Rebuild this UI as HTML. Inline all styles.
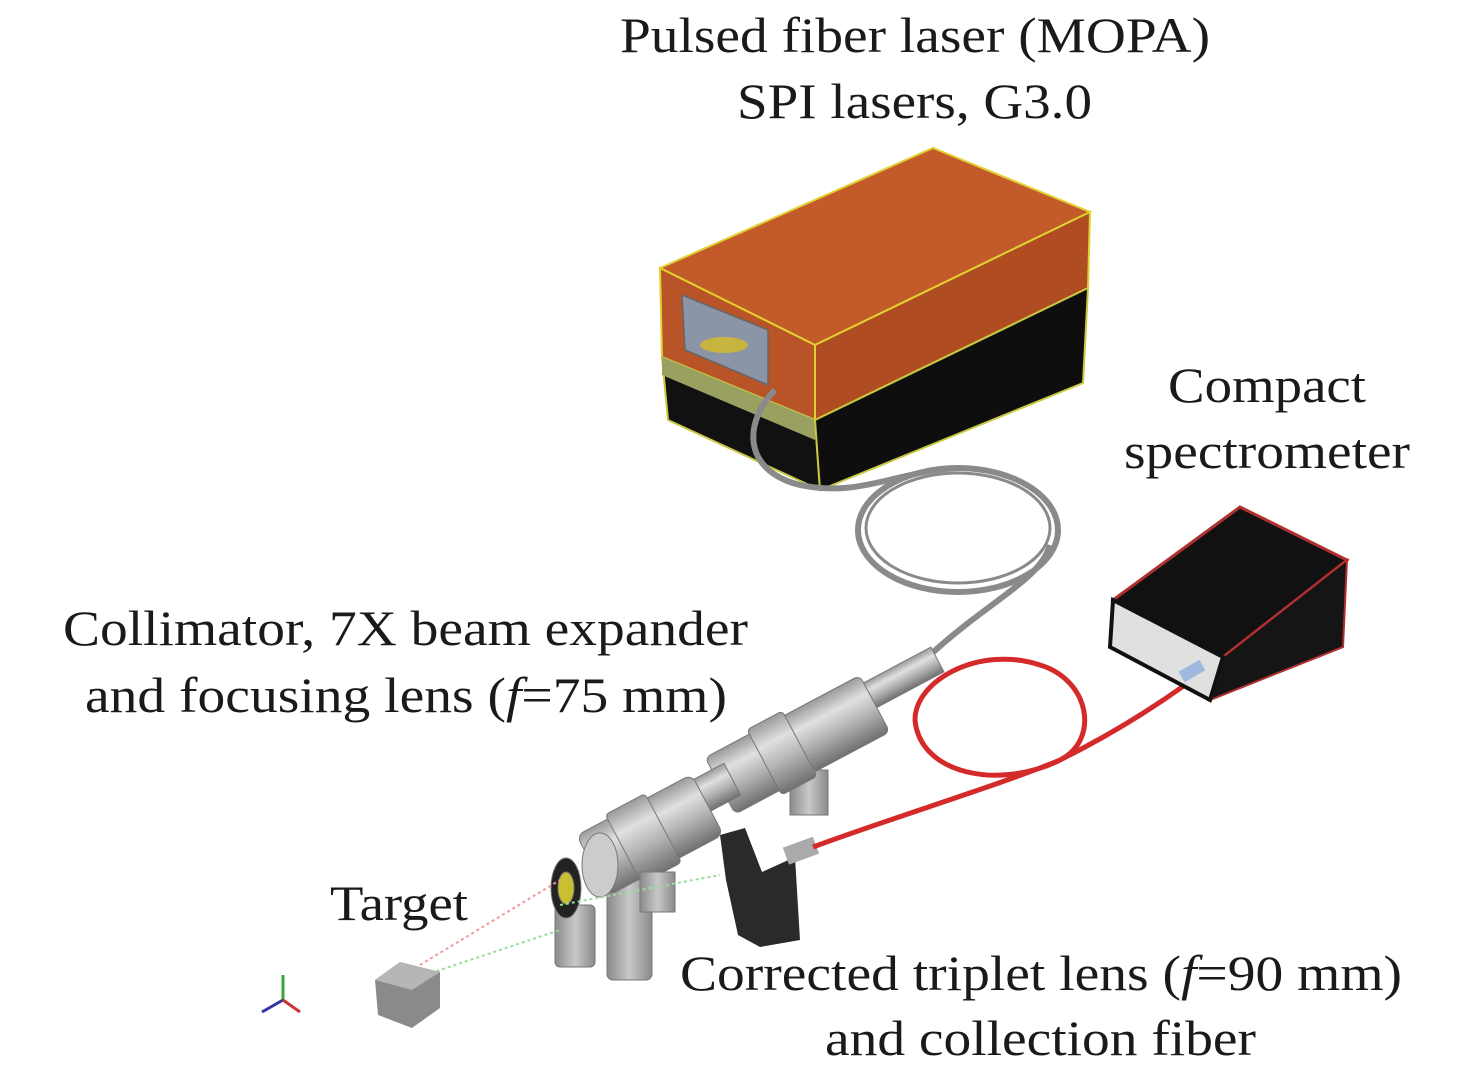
<!DOCTYPE html>
<html><head><style>
html,body{margin:0;padding:0;background:#fff;}
svg{display:block;}
text{font-family:"Liberation Serif",serif;font-size:50px;fill:#1a1a1a;}
</style></head><body>
<svg width="1476" height="1079" viewBox="0 0 1476 1079" xmlns="http://www.w3.org/2000/svg">
<defs>
<linearGradient id="metal" x1="0" y1="0" x2="0" y2="1">
<stop offset="0" stop-color="#9a9a9a"/><stop offset="0.3" stop-color="#e0e0e0"/><stop offset="0.6" stop-color="#b4b4b4"/><stop offset="1" stop-color="#707070"/>
</linearGradient>
<linearGradient id="post" x1="0" y1="0" x2="1" y2="0">
<stop offset="0" stop-color="#8a8a8a"/><stop offset="0.5" stop-color="#c8c8c8"/><stop offset="1" stop-color="#8a8a8a"/>
</linearGradient>
</defs>
<!-- laser box -->
<polygon points="660,268 933,148 1090,212 815,345" fill="#c25a2a" stroke="#e0d030" stroke-width="2"/>
<polygon points="660,268 815,345 815,420 662,357" fill="#b85428" stroke="#e0d030" stroke-width="2"/>
<polygon points="662,357 815,420 820,490 668,420" fill="#111" stroke="#c8c840" stroke-width="2"/>
<polygon points="662,357 815,420 815,440 662,375" fill="#9aa060"/>
<polygon points="815,345 1090,212 1088,288 815,420" fill="#b04c22" stroke="#e0d030" stroke-width="2"/>
<polygon points="815,420 1088,288 1083,383 820,490" fill="#0e0e0e" stroke="#c8c840" stroke-width="2"/>
<polygon points="682,295 768,330 768,385 685,350" fill="#8c94a8" stroke="#666" stroke-width="1.5"/>
<ellipse cx="724" cy="345" rx="24" ry="8" fill="#c8b440"/>
<!-- laser fiber coil -->
<g fill="none" stroke="#8a8a8a" stroke-width="6">
<path d="M775,390 C745,420 740,470 800,485 C860,498 900,470 960,468"/>
<ellipse cx="958" cy="530" rx="100" ry="62"/>
<ellipse cx="958" cy="528" rx="92" ry="55" stroke-width="3"/>
<path d="M1050,545 C1040,580 990,600 930,655"/>
</g>
<!-- collimator -->
<g stroke="#777" stroke-width="1">
<rect x="790" y="770" width="38" height="45" fill="url(#post)"/>
<g transform="rotate(-28 880 690)"><rect x="860" y="676" width="85" height="28" fill="url(#metal)"/></g>
<g transform="rotate(-28 797 745)"><rect x="710" y="713" width="175" height="64" rx="6" fill="url(#metal)"/>
<rect x="760" y="708" width="40" height="74" rx="4" fill="url(#metal)"/></g>
<g transform="rotate(-28 712 790)"><rect x="690" y="772" width="45" height="36" fill="url(#metal)"/></g>
<rect x="607" y="880" width="45" height="100" rx="6" fill="url(#post)"/>
<rect x="555" y="905" width="40" height="62" rx="5" fill="url(#post)"/>
<g transform="rotate(-28 650 835)"><rect x="585" y="801" width="130" height="68" rx="8" fill="url(#metal)"/>
<rect x="620" y="796" width="45" height="78" rx="4" fill="url(#metal)"/></g>
<ellipse cx="600" cy="865" rx="18" ry="32" fill="#ccc"/>
<ellipse cx="566" cy="888" rx="15" ry="30" fill="#222"/>
<ellipse cx="566" cy="888" rx="8" ry="16" fill="#c8c030"/>
<rect x="640" y="872" width="35" height="40" fill="url(#post)"/>
</g>
<!-- beams -->
<g stroke-dasharray="3,3" stroke-width="2" fill="none">
<line x1="420" y1="965" x2="560" y2="880" stroke="#e99"/>
<line x1="425" y1="975" x2="560" y2="930" stroke="#9d9"/>
<line x1="560" y1="905" x2="720" y2="875" stroke="#9d9"/>
</g>
<!-- triplet mount -->
<polygon points="720,835 745,828 762,872 795,857 800,940 760,947 738,935 726,880" fill="#2a2a2a"/>
<rect x="785" y="842" width="32" height="18" fill="#aaa" transform="rotate(-20 800 851)"/>
<!-- red fiber -->
<path d="M813,847 C900,815 1000,785 1060,760 C1100,740 1090,680 1040,665 C980,645 915,680 915,720 C920,775 1000,790 1060,760 C1110,735 1150,710 1185,685" fill="none" stroke="#d42a2a" stroke-width="5"/>
<!-- spectrometer -->
<polygon points="1113,600 1240,507 1347,560 1223,657" fill="#111" stroke="#b03030" stroke-width="3"/>
<polygon points="1223,657 1347,560 1343,647 1210,700" fill="#151515" stroke="#b03030" stroke-width="2"/>
<polygon points="1113,600 1223,657 1210,700 1110,647" fill="#e0e0e0" stroke="#111" stroke-width="4"/>
<rect x="1180" y="665" width="24" height="12" fill="#a0b8e0" transform="rotate(-30 1192 671)"/>
<!-- target -->
<polygon points="375,980 400,962 440,972 440,1008 412,1028 378,1015" fill="#8a8a8a"/>
<polygon points="375,980 400,962 440,972 412,990" fill="#b6b6b6"/>
<!-- axes -->
<line x1="283" y1="1000" x2="283" y2="975" stroke="#3a3" stroke-width="3"/>
<line x1="283" y1="1000" x2="262" y2="1012" stroke="#33a" stroke-width="3"/>
<line x1="283" y1="1000" x2="300" y2="1012" stroke="#c33" stroke-width="3"/>
<!-- labels -->
<text x="620" y="52" textLength="590" lengthAdjust="spacingAndGlyphs">Pulsed fiber laser (MOPA)</text>
<text x="737" y="118" textLength="355" lengthAdjust="spacingAndGlyphs">SPI lasers, G3.0</text>
<text x="1168" y="402" textLength="198" lengthAdjust="spacingAndGlyphs">Compact</text>
<text x="1124" y="468" textLength="286" lengthAdjust="spacingAndGlyphs">spectrometer</text>
<text x="63" y="645" textLength="685" lengthAdjust="spacingAndGlyphs">Collimator, 7X beam expander</text>
<text x="85" y="712" textLength="642" lengthAdjust="spacingAndGlyphs">and focusing lens (<tspan font-style="italic">f</tspan>=75 mm)</text>
<text x="330" y="920" textLength="138" lengthAdjust="spacingAndGlyphs">Target</text>
<text x="680" y="990" textLength="722" lengthAdjust="spacingAndGlyphs">Corrected triplet lens (<tspan font-style="italic">f</tspan>=90 mm)</text>
<text x="825" y="1055" textLength="431" lengthAdjust="spacingAndGlyphs">and collection fiber</text>
</svg>
</body></html>
